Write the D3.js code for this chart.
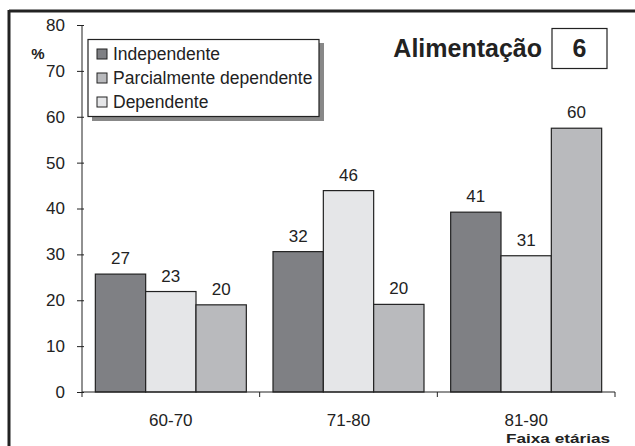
<!DOCTYPE html>
<html><head><meta charset="utf-8">
<script src="https://cdn.jsdelivr.net/npm/d3@7"></script>
<style>body{margin:0;background:#fff}svg{display:block}text{font-family:"Liberation Sans",Arial,sans-serif;fill:#222}</style>
</head><body><svg id="c" width="635" height="446"></svg>
<script>
const categories = ["60-70", "71-80", "81-90"];
const barSeries = ["Independente", "Dependente", "Parcialmente dependente"];
// bar heights as drawn in the picture
const independente = [25.7, 30.6, 39.2];
const dependente = [21.9, 43.9, 29.7];
const parcial = [19.0, 19.1, 57.5];
// value labels as printed
const labelsIndependente = [27, 32, 41];
const labelsDependente = [23, 46, 31];
const labelsParcial = [20, 20, 60];
const legendOrder = ["Independente", "Parcialmente dependente", "Dependente"];
const yTicks = [0, 10, 20, 30, 40, 50, 60, 70, 80];

const colors = {"Independente": "#7f8084", "Parcialmente dependente": "#b9babd", "Dependente": "#e5e6e8"};
const values = [independente, dependente, parcial];
const labels = [labelsIndependente, labelsDependente, labelsParcial];

const svg = d3.select("#c");
const x0 = 82, x1 = 615, yB = 392, yT = 25;

// frame
svg.append("line").attr("x1", 9).attr("x2", 640).attr("y1", 11).attr("y2", 11).attr("stroke", "#222").attr("stroke-width", 3);
svg.append("line").attr("x1", 9).attr("x2", 9).attr("y1", 10).attr("y2", 450).attr("stroke", "#222").attr("stroke-width", 3);

const x = d3.scaleBand().domain(categories).range([x0, x1]).paddingInner(0).paddingOuter(0);
const xs = d3.scaleBand().domain(barSeries).range([0, x.bandwidth()]).paddingOuter(0.265).paddingInner(0);
const y = d3.scaleLinear().domain([0, 80]).range([yB, yT]);

// y axis
const ya = svg.append("g").attr("transform", `translate(${x0},0)`)
  .call(d3.axisLeft(y).tickValues(yTicks).tickSize(5).tickPadding(12));
ya.selectAll("text").style("font-size", "17px").attr("fill", "#222");
ya.selectAll("line,path").attr("stroke", "#222");
ya.select(".domain").attr("d", `M0,${yT}V${yB}`);
ya.selectAll(".tick line").attr("x2", -5).attr("x1", 2);

// bars
const groups = svg.append("g").selectAll("g").data(categories).join("g")
  .attr("transform", d => `translate(${x(d)},0)`);
barSeries.forEach((s, si) => {
  groups.append("rect")
    .attr("x", xs(s)).attr("width", xs.bandwidth())
    .attr("y", (d, i) => y(values[si][i]))
    .attr("height", (d, i) => y(0) - y(values[si][i]))
    .attr("fill", colors[s]).attr("stroke", "#222").attr("stroke-width", 1.2);
  groups.append("text")
    .attr("x", xs(s) + xs.bandwidth() / 2)
    .attr("y", (d, i) => y(values[si][i]) - 10)
    .attr("text-anchor", "middle").style("font-size", "17px")
    .text((d, i) => labels[si][i]);
});

// x axis
const xa = svg.append("g").attr("transform", `translate(0,${yB})`)
  .call(d3.axisBottom(x).tickSize(0).tickPadding(22));
xa.selectAll("text").style("font-size", "17px").attr("fill", "#222");
xa.select(".domain").attr("stroke", "#222").attr("d", `M${x0},0H${x1}`);
const bounds = categories.map(c => x(c)).concat([x1]);
xa.selectAll(".bt").data(bounds).join("line").attr("class", "bt")
  .attr("x1", d => d).attr("x2", d => d).attr("y1", 0).attr("y2", 5).attr("stroke", "#222");

svg.append("text").attr("x", 506).attr("y", 443)
  .attr("textLength", 104).attr("lengthAdjust", "spacingAndGlyphs")
  .style("font-size", "13px").style("font-weight", "bold").text("Faixa etárias");

svg.append("text").attr("x", 38).attr("y", 59).attr("text-anchor", "middle")
  .style("font-size", "15px").style("font-weight", "bold").text("%");

// legend
const lg = svg.append("g");
lg.append("rect").attr("x", 92).attr("y", 43).attr("width", 232).attr("height", 78).attr("fill", "#888");
lg.append("rect").attr("x", 88).attr("y", 39.5).attr("width", 231).attr("height", 77).attr("fill", "#fff").attr("stroke", "#222").attr("stroke-width", 1.2);
legendOrder.forEach((s, i) => {
  const cy = 54 + i * 24;
  lg.append("rect").attr("x", 97).attr("y", cy - 5).attr("width", 10).attr("height", 10)
    .attr("fill", colors[s]).attr("stroke", "#222").attr("stroke-width", 1);
  lg.append("text").attr("x", 113).attr("y", cy + 6).style("font-size", "17.5px").text(s);
});

// title
svg.append("text").attr("x", 542).attr("y", 57).attr("text-anchor", "end")
  .style("font-size", "25px").style("font-weight", "bold").text("Alimentação");
svg.append("rect").attr("x", 552).attr("y", 28.5).attr("width", 55).attr("height", 40)
  .attr("fill", "#fff").attr("stroke", "#222").attr("stroke-width", 1.2);
svg.append("text").attr("x", 579.5).attr("y", 57).attr("text-anchor", "middle")
  .style("font-size", "25px").style("font-weight", "bold").text("6");
</script></body></html>
